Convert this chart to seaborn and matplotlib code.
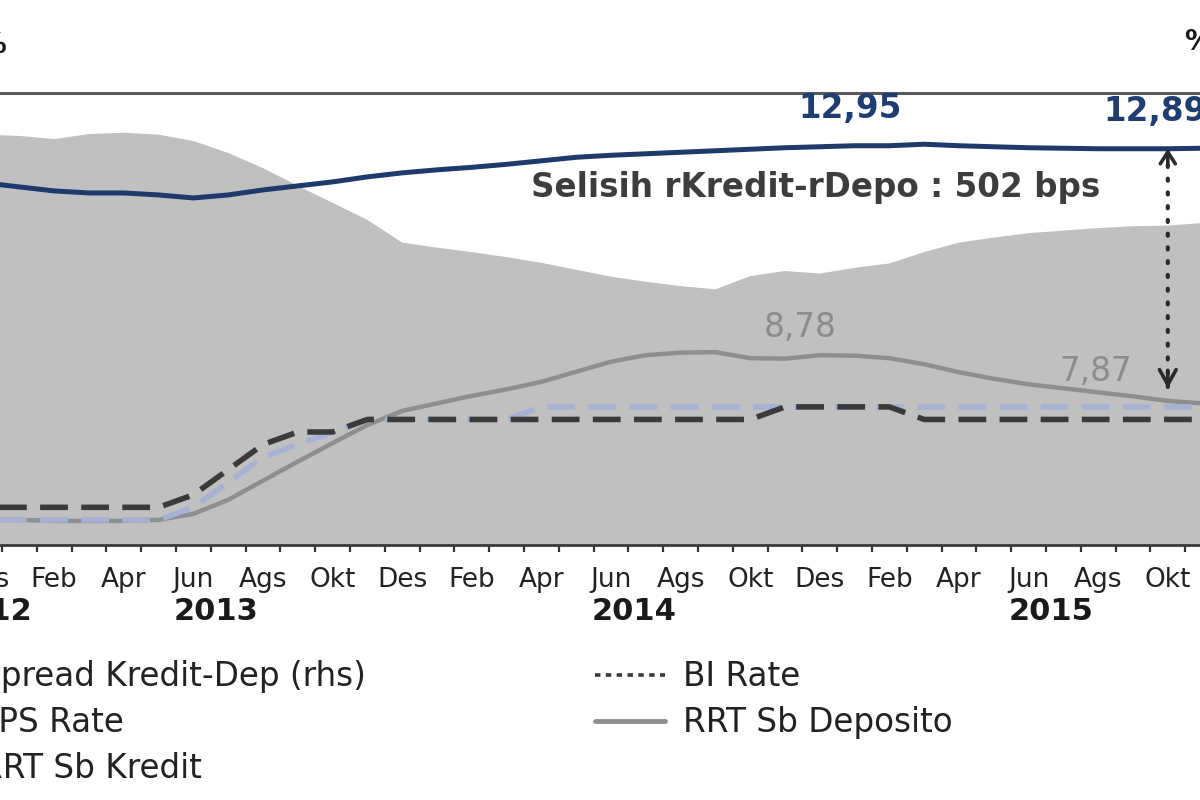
import numpy as np
import matplotlib
matplotlib.use("Agg")
import matplotlib.pyplot as plt
import matplotlib.transforms as mtransforms
from matplotlib.lines import Line2D
from matplotlib.patches import Patch
import seaborn as sns

# -------------------------
# Data (monthly, Des 2012 - Nov 2015)
# -------------------------
months = ['Des',
          'Jan', 'Feb', 'Mar', 'Apr', 'Mei', 'Jun', 'Jul', 'Ags', 'Sep', 'Okt', 'Nov', 'Des',
          'Jan', 'Feb', 'Mar', 'Apr', 'Mei', 'Jun', 'Jul', 'Ags', 'Sep', 'Okt', 'Nov', 'Des',
          'Jan', 'Feb', 'Mar', 'Apr', 'Mei', 'Jun', 'Jul', 'Ags', 'Sep', 'Okt', 'Nov']
years = ['2012',
         '2013', '2013', '2013', '2013', '2013', '2013', '2013', '2013', '2013', '2013', '2013', '2013',
         '2014', '2014', '2014', '2014', '2014', '2014', '2014', '2014', '2014', '2014', '2014', '2014',
         '2015', '2015', '2015', '2015', '2015', '2015', '2015', '2015', '2015', '2015', '2015']
year_labels = ['2012', '2013', '2014', '2015']

# spread kredit - deposito (rhs, %)
spread = [6.50,
          6.48, 6.43, 6.51, 6.53, 6.50, 6.40, 6.21, 5.97, 5.69, 5.42, 5.15, 4.79,
          4.71, 4.64, 4.56, 4.47, 4.36, 4.25, 4.17, 4.10, 4.05, 4.26, 4.34, 4.30,
          4.39, 4.46, 4.64, 4.79, 4.87, 4.94, 4.98, 5.02, 5.05, 5.06, 5.10]
rrt_kredit = [12.21,
              12.13, 12.05, 12.01, 12.01, 11.97, 11.91, 11.97, 12.07, 12.15, 12.23, 12.33, 12.41,
              12.47, 12.52, 12.58, 12.65, 12.72, 12.76, 12.79, 12.82, 12.85, 12.88, 12.91, 12.93,
              12.95, 12.95, 12.98, 12.95, 12.93, 12.91, 12.90, 12.89, 12.89, 12.89, 12.90]
rrt_deposito = [5.50,
                5.50, 5.48, 5.48, 5.48, 5.50, 5.62, 5.90, 6.28, 6.66, 7.03, 7.39, 7.67,
                7.82, 7.97, 8.10, 8.25, 8.45, 8.65, 8.78, 8.83, 8.84, 8.72, 8.71, 8.78,
                8.77, 8.72, 8.60, 8.44, 8.31, 8.20, 8.12, 8.04, 7.96, 7.87, 7.82]
lps_rate = [5.50,
            5.50, 5.50, 5.50, 5.50, 5.50, 5.75, 6.25, 6.75, 7.00, 7.25, 7.50, 7.50,
            7.50, 7.50, 7.50, 7.75, 7.75, 7.75, 7.75, 7.75, 7.75, 7.75, 7.75, 7.75,
            7.75, 7.75, 7.75, 7.75, 7.75, 7.75, 7.75, 7.75, 7.75, 7.75, 7.75]
bi_rate = [5.75,
           5.75, 5.75, 5.75, 5.75, 5.75, 6.00, 6.50, 7.00, 7.25, 7.25, 7.50, 7.50,
           7.50, 7.50, 7.50, 7.50, 7.50, 7.50, 7.50, 7.50, 7.50, 7.50, 7.75, 7.75,
           7.75, 7.75, 7.50, 7.50, 7.50, 7.50, 7.50, 7.50, 7.50, 7.50, 7.50]

# colours
c_fill = '#c0c0c0'
c_kredit = '#1e3a6b'
c_depo = '#8e8e8e'
c_bi = '#3a3a3a'
c_lps = '#a7b1d4'

# month index: Jan 2013 occupies [0, 1], points at month centres
pos = np.arange(len(months)) - 0.5
okt15 = len(months) - 2
jan15 = 25
des14 = 24

sns.set_theme(style="white")
plt.rcParams['font.family'] = ['DejaVu Sans']

# the chart is a crop: the axes run past both edges of the figure
px_left, px_right = -60, 1260
fig = plt.figure(figsize=(12, 8), dpi=100)
fig.patch.set_facecolor('white')
ax = fig.add_axes([px_left / 1200, 1 - 545 / 800, (px_right - px_left) / 1200, 452 / 800])
ax2 = ax.twinx()
ax.set_zorder(2)
ax2.set_zorder(1)
ax.patch.set_visible(False)

# spread area (rhs)
ax2.fill_between(pos, 0, spread, color=c_fill, lw=0)
ax2.set_ylim(0, 7.16)

# rate lines (lhs)
sns.lineplot(x=pos, y=rrt_deposito, ax=ax, color=c_depo, lw=3.2)
sns.lineplot(x=pos, y=lps_rate, ax=ax, color=c_lps, lw=4, linestyle=(0, (5, 2.4)))
sns.lineplot(x=pos, y=bi_rate, ax=ax, color=c_bi, lw=4, linestyle=(0, (5, 2.4)))
sns.lineplot(x=pos, y=rrt_kredit, ax=ax, color=c_kredit, lw=3.6)

# axes frame
for a in (ax, ax2):
    for s in a.spines.values():
        s.set_visible(False)
ax.spines['top'].set_visible(True)
ax.spines['top'].set_color('#5a5a5a')
ax.spines['top'].set_linewidth(2.2)
ax.spines['bottom'].set_visible(True)
ax.spines['bottom'].set_color('#3a3a3a')
ax.spines['bottom'].set_linewidth(2)

ax.set_xticks(pos[::2])
ax.set_xticklabels(months[::2])
ax.set_xticks(np.arange(-1, len(months)), minor=True)
ax.tick_params(axis='x', which='major', bottom=True, length=0, pad=16,
               labelsize=19, labelcolor='#222222')
ax.tick_params(axis='x', which='minor', bottom=True, length=5, width=1.6,
               color='#333333', direction='out')
ax.tick_params(axis='y', left=False, labelleft=False, right=False, labelright=False)
ax2.tick_params(axis='y', left=False, labelleft=False, right=False, labelright=False)
ax.set_xlabel('')
ax.set_ylabel('')
ax.grid(False)
ax2.grid(False)

# limits last, so the tick setting does not widen them
ax.set_xlim((px_left - 2) / 34.8, (px_right - 2) / 34.8)
ax.set_ylim(5, 14)

# year labels under the months
trans = mtransforms.blended_transform_factory(ax.transData, ax.transAxes)
for yr in year_labels:
    idx = [i for i, y in enumerate(years) if y == yr]
    if len(idx) >= 7:
        xc = (pos[idx[5]] + pos[idx[6]]) / 2
    else:
        xc = pos[idx].mean()
    ax.text(xc + 0.15, -0.148, yr, transform=trans, ha='center', va='center',
            fontsize=22, fontweight='bold', color='#1a1a1a')

# annotations
ax.annotate('12,95', xy=(pos[jan15], rrt_kredit[jan15]), xytext=(-3, 27),
            textcoords='offset points', ha='center', va='center',
            fontsize=23.5, fontweight='bold', color='#1f3d70')
ax.annotate('12,89', xy=(pos[okt15], rrt_kredit[okt15]), xytext=(-9, 27),
            textcoords='offset points', ha='center', va='center',
            fontsize=23.5, fontweight='bold', color='#1f3d70')
ax.annotate('8,78', xy=(pos[des14], rrt_deposito[des14]), xytext=(-14, 20),
            textcoords='offset points', ha='center', va='center',
            fontsize=23.5, color='#8c8c8c')
ax.annotate('7,87', xy=(pos[okt15], rrt_deposito[okt15]), xytext=(-52, 21),
            textcoords='offset points', ha='center', va='center',
            fontsize=23.5, color='#8c8c8c')
ax.text(23.39, 12.11, 'Selisih rKredit-rDepo : 502 bps', ha='center', va='center',
        fontsize=23.5, fontweight='bold', color='#3d3d3d')

# dotted double arrow between kredit and deposito at Okt 2015
ax.annotate('', xy=(pos[okt15], rrt_kredit[okt15]), xytext=(pos[okt15], rrt_deposito[okt15]),
            arrowprops=dict(arrowstyle='-', lw=3, color='#2a2a2a', linestyle=(0, (0.5, 2.8)),
                            capstyle='round', shrinkA=10, shrinkB=8))
ax.annotate('', xy=(pos[okt15], rrt_kredit[okt15]), xytext=(0, -12), textcoords='offset points',
            arrowprops=dict(arrowstyle='->,head_length=0.7,head_width=0.45', lw=2.6,
                            color='#2a2a2a', shrinkA=0, shrinkB=0))
ax.annotate('', xy=(pos[okt15], rrt_deposito[okt15]), xytext=(0, 22), textcoords='offset points',
            arrowprops=dict(arrowstyle='->,head_length=0.9,head_width=0.5', lw=2.6,
                            color='#2a2a2a', shrinkA=0, shrinkB=9))

# unit labels above the (cropped) axes
fig.text(6 / 1200, 1 - 45 / 800, '%', ha='right', va='center', fontsize=20,
         fontweight='bold', color='#1a1a1a')
fig.text(1184 / 1200, 1 - 42 / 800, '%', ha='left', va='center', fontsize=20,
         fontweight='bold', color='#1a1a1a')

# legends
left_handles = [Patch(facecolor=c_fill, edgecolor='none'),
                Line2D([], [], color=c_lps, lw=4, linestyle=(0, (3, 1.5))),
                Line2D([], [], color=c_kredit, lw=4)]
right_handles = [Line2D([], [], color=c_bi, lw=2.6, linestyle=(0, (1.5, 1.5))),
                 Line2D([], [], color=c_depo, lw=3.5)]
leg_kw = dict(loc='upper left', frameon=False, fontsize=23.5, handlelength=2.15,
              handletextpad=0.55, labelspacing=0.4, borderpad=0, borderaxespad=0,
              labelcolor='#222222')
fig.legend(left_handles, ['Spread Kredit-Dep (rhs)', 'LPS Rate', 'RRT Sb Kredit'],
           bbox_to_anchor=(-108 / 1200, 1 - 660 / 800), **leg_kw)
fig.legend(right_handles, ['BI Rate', 'RRT Sb Deposito'],
           bbox_to_anchor=(595 / 1200, 1 - 660 / 800), **leg_kw)

fig.savefig('out.png', dpi=100)
